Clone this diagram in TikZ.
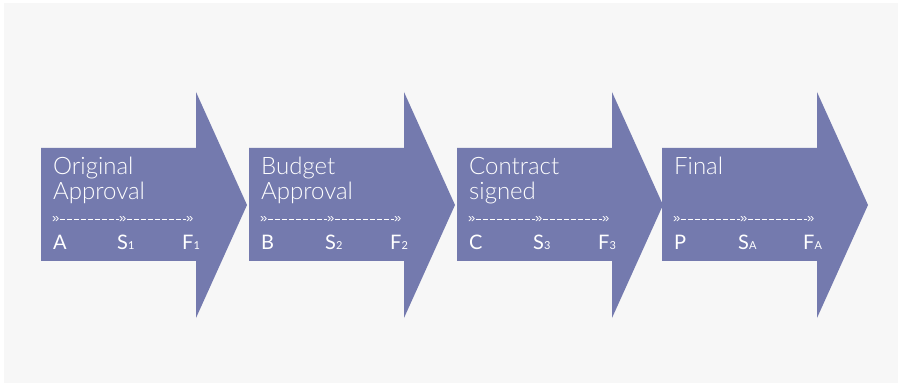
\documentclass[tikz,border=0pt]{standalone}
\usepackage{fontspec}
\setmainfont{Lato}[UprightFont=* Light]
\newfontfamily\regfont{Lato}
\newfontfamily\guilfont{Liberation Sans}
\definecolor{panel}{HTML}{F7F7F7}
\definecolor{arrowfill}{HTML}{747AAE}
\tikzset{
  chevron/.style={fill=arrowfill, draw=none},
  titleline/.style={anchor=base west, inner sep=0pt, text=white,
    font=\fontsize{24}{25}\selectfont},
  guil/.style={anchor=base west, inner sep=0pt, text=white,
    font=\guilfont\fontsize{13}{14}\selectfont},
  dashline/.style={draw=white, line width=0.8pt, dash pattern=on 5pt off 2pt},
  letterlbl/.style={anchor=base west, inner sep=0pt, text=white,
    font=\regfont\fontsize{20}{22}\selectfont},
}
\newcommand{\subsm}[1]{{\fontsize{11}{12}\selectfont #1}}
\begin{document}
\begin{tikzpicture}[x=1pt, y=-1pt]
  \useasboundingbox (0,0) rectangle (898,385);
  \fill[white] (0,0) rectangle (898,385);
  \fill[panel] (4,3) rectangle (898,383);
  \foreach \i/\L/\la/\lb/\ca/\sub in {
      1/41/Original/Approval/A/1,
      2/249/Budget/Approval/B/2,
      3/457/Contract/signed/C/3,
      4/662/Final//P/A} {
    % arrow shape
    \path[chevron] (\L,148) -- (\L+155,148) -- (\L+155,92) -- (\L+206,205)
      -- (\L+155,318) -- (\L+155,261) -- (\L,261) -- cycle;
    % title
    \node[titleline] (title\i a) at (\L+12,175) {\la};
    \node[titleline] (title\i b) at (\L+12,200) {\lb};
    % timeline with guillemets, the dashes run at the middle of the glyphs
    \node[guil] (g\i a) at (\L+11,223) {»};
    \node[guil] (g\i b) at (\L+78,223) {»};
    \node[guil] (g\i c) at (\L+145,223) {»};
    \draw[dashline] ([yshift=4pt]g\i a.base east) -- ([yshift=4pt]g\i b.base west);
    \draw[dashline] ([yshift=4pt]g\i b.base east) -- ([yshift=4pt]g\i c.base west);
    % milestone labels
    \node[letterlbl] (m\i a) at (\L+12,250) {\ca};
    \node[letterlbl] (m\i b) at (\L+76,250) {S\subsm{\sub}};
    \node[letterlbl] (m\i c) at (\L+141,250) {F\subsm{\sub}};
  }
\end{tikzpicture}
\end{document}
